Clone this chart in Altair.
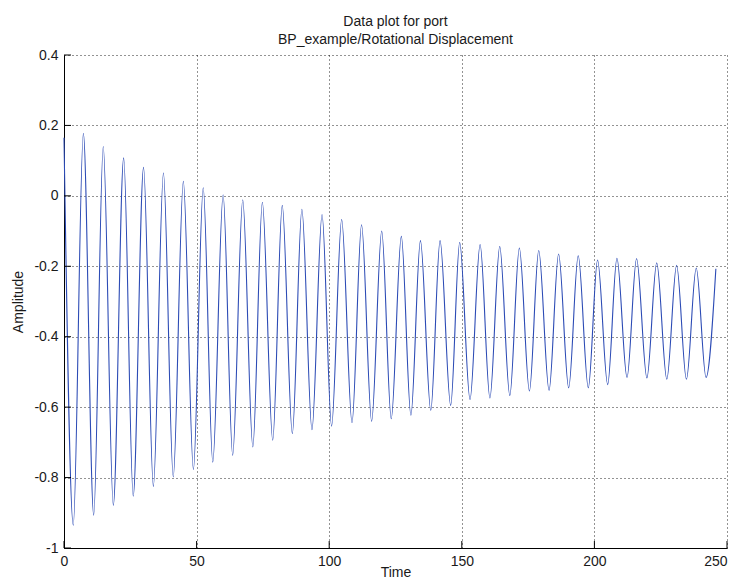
import altair as alt
import pandas as pd

# ---- data ----
peak_t = [0.0, 7.3, 14.8, 22.5, 30.0, 37.5, 45.0, 52.5, 60.0, 67.4, 74.8, 82.3,
          89.7, 97.3, 104.7, 112.2, 119.8, 127.2, 134.4, 141.8, 149.2, 156.9,
          164.3, 171.7, 179.0, 186.5, 193.9, 201.2, 208.5, 215.9, 223.5, 231.0,
          238.4, 245.8]
peak_v = [0.165, 0.178, 0.140, 0.108, 0.081, 0.065, 0.041, 0.023, 0.003, -0.011,
          -0.018, -0.027, -0.038, -0.053, -0.067, -0.082, -0.100, -0.115, -0.127,
          -0.127, -0.132, -0.138, -0.144, -0.148, -0.155, -0.165, -0.170, -0.182,
          -0.177, -0.178, -0.190, -0.197, -0.205, -0.207]
trough_t = [3.5, 11.2, 18.6, 26.1, 33.7, 41.2, 48.8, 56.1, 63.6, 71.2, 78.7, 86.1,
            93.5, 100.9, 108.6, 116.0, 123.4, 130.8, 138.3, 145.8, 153.1, 160.6,
            168.1, 175.5, 182.9, 190.3, 197.7, 205.0, 212.3, 219.8, 227.3, 234.7,
            242.1]
trough_v = [-0.935, -0.907, -0.879, -0.853, -0.825, -0.798, -0.777, -0.756, -0.737,
            -0.713, -0.694, -0.675, -0.664, -0.654, -0.644, -0.640, -0.633, -0.623,
            -0.609, -0.595, -0.578, -0.574, -0.567, -0.554, -0.552, -0.545, -0.545,
            -0.536, -0.516, -0.517, -0.521, -0.521, -0.516]
x_ticks = [0, 50, 100, 150, 200, 250]
y_ticks = [-1.0, -0.8, -0.6, -0.4, -0.2, 0.0, 0.2, 0.4]
title_line1 = "Data plot for port"
title_line2 = "BP_example/Rotational Displacement"

FONT = "Liberation Sans"
TXT = "#1a1a1a"
W, H = 663, 493

df = pd.DataFrame({"Time": peak_t + trough_t, "Amplitude": peak_v + trough_v})
df = df.sort_values("Time").reset_index(drop=True)

xs = alt.Scale(domain=[0, 250], nice=False, zero=False)
ys = alt.Scale(domain=[-1, 0.4], nice=False, zero=False)

line = alt.Chart(df).mark_line(
    interpolate="monotone", color="#2c4bb5", strokeWidth=1.1
).encode(
    x=alt.X("Time:Q", scale=xs,
            axis=alt.Axis(values=x_ticks, title="Time", labelPadding=6,
                          labelFlush=False,
                          labelAlign={"condition": {"test": "datum.value >= 250",
                                                    "value": "right"},
                                      "value": "center"},
                          titleX=W / 2, titleY=28, titleAlign="center",
                          titleBaseline="alphabetic")),
    y=alt.Y("Amplitude:Q", scale=ys,
            axis=alt.Axis(values=y_ticks, title="Amplitude", labelPadding=6,
                          labelFlush=False,
                          labelExpr="toString(round(datum.value*10)/10)",
                          titleX=-46, titleY=H / 2, titleAngle=270,
                          titleAlign="center", titleBaseline="middle")),
)

xt = alt.Chart(pd.DataFrame({"t": x_ticks})).mark_rule(color="#000", strokeWidth=1).encode(
    x=alt.X("t:Q", scale=xs), y=alt.value(H), y2=alt.value(H - 7)
)
yt = alt.Chart(pd.DataFrame({"v": y_ticks})).mark_rule(color="#000", strokeWidth=1).encode(
    y=alt.Y("v:Q", scale=ys), x=alt.value(0), x2=alt.value(7)
)

tdf = pd.DataFrame({"l1": [title_line1], "l2": [title_line2]})
t1 = alt.Chart(tdf).mark_text(font=FONT, fontSize=14, color=TXT, align="center",
                              baseline="alphabetic").encode(
    text="l1:N", x=alt.value(W / 2), y=alt.value(-29))
t2 = alt.Chart(tdf).mark_text(font=FONT, fontSize=14, color=TXT, align="center",
                              baseline="alphabetic").encode(
    text="l2:N", x=alt.value(W / 2), y=alt.value(-11.5))

chart = alt.layer(line, xt, yt, t1, t2).properties(
    width=W, height=H,
    autosize=alt.AutoSizeParams(type="none"),
    padding={"left": 56, "top": 47, "right": 2, "bottom": 32},
).configure_view(stroke=None).configure_axis(
    grid=True, gridDash=[1, 3], gridColor="#000", gridOpacity=0.85, gridWidth=1,
    domainColor="#000", domainWidth=1, ticks=False,
    labelFont=FONT, labelFontSize=14, labelColor=TXT,
    titleFont=FONT, titleFontSize=14, titleFontWeight="normal", titleColor=TXT,
)

chart.save("out.html", embed_options={"renderer": "svg", "actions": False})
